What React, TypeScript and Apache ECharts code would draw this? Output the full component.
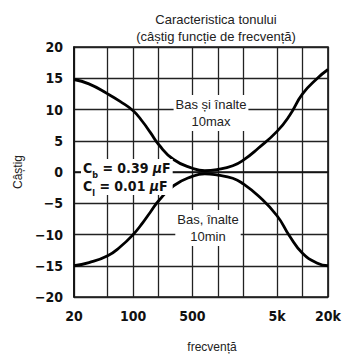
import React, { useEffect, useRef } from "react";
import * as echarts from "echarts";

const freqs = [20, 30, 50, 70, 100, 130, 160, 200, 300, 500, 700, 1000, 1500, 2000, 3000, 5000, 7000, 10000, 15000, 20000];
const gainMax = [14.8, 14.1, 12.5, 11.3, 9.8, 8.0, 6.3, 4.4, 2.0, 0.6, 0.2, 0.4, 1.0, 1.9, 3.8, 6.5, 9.0, 12.5, 15.0, 16.4];
const gainMin = [-15.0, -14.5, -13.4, -12.0, -10.0, -8.1, -6.4, -4.6, -2.2, -0.7, -0.3, -0.5, -1.0, -1.9, -3.8, -7.0, -10.2, -13.0, -14.6, -15.0];
const xTickLabels = [20, 100, 500, 5000, 20000];
const xGridFreqs = [20, 50, 100, 200, 500, 1000, 2000, 5000, 10000, 20000];

const COND = "'Liberation Sans Narrow', 'DejaVu Sans Condensed', 'Liberation Sans', Arial, sans-serif";
const SANS = "'Liberation Sans', Arial, Helvetica, sans-serif";

function fmtFreq(v: number): string {
  const f = Math.round(Math.pow(10, v));
  return f >= 1000 ? f / 1000 + "k" : String(f);
}

export default function App() {
  const ref = useRef<HTMLDivElement>(null);
  useEffect(() => {
    if (!ref.current) return;
    const chart = echarts.init(ref.current, undefined, { renderer: "svg" });
    const toPts = (g: number[]) => freqs.map((f, i) => [Math.log10(f), g[i]]);
    chart.setOption({
      animation: false,
      backgroundColor: "#fff",
      title: {
        text: "Caracteristica tonului\n(câștig funcție de frecvență)",
        left: 211,
        top: 6,
        textAlign: "center",
        textStyle: { fontFamily: SANS, fontSize: 13, fontWeight: "normal", color: "#222", lineHeight: 17 },
      },
      grid: { left: 74, right: 30, top: 47, bottom: 57, show: true, borderColor: "#111", borderWidth: 1.6 },
      xAxis: {
        type: "value",
        min: Math.log10(20),
        max: Math.log10(20000),
        name: "frecvență",
        nameLocation: "middle",
        nameGap: 44,
        nameTextStyle: { fontFamily: SANS, fontSize: 12, color: "#222", padding: [0, 0, 0, 22] },
        axisLine: { show: true, lineStyle: { color: "#111", width: 1.6 } },
        axisTick: { show: false, customValues: xGridFreqs.map((f) => Math.log10(f)) },
        axisLabel: {
          customValues: xTickLabels.map((f) => Math.log10(f)),
          formatter: (v: number) => fmtFreq(v),
          fontFamily: COND,
          fontWeight: "bold",
          fontSize: 14,
          color: "#111",
          margin: 12,
        },
        splitLine: { show: true, lineStyle: { color: "#222", width: 1.3 } },
      },
      yAxis: {
        type: "value",
        min: -20,
        max: 20,
        interval: 5,
        name: "Câștig",
        nameLocation: "middle",
        nameGap: 47,
        nameTextStyle: { fontFamily: SANS, fontSize: 12, color: "#222" },
        axisLine: { show: true, lineStyle: { color: "#111", width: 1.6 } },
        axisTick: { show: false },
        axisLabel: {
          formatter: (v: number) => (v < 0 ? "\u2212" + Math.abs(v) : String(v)),
          fontFamily: COND,
          fontWeight: "bold",
          fontSize: 14,
          color: "#111",
          margin: 11,
        },
        splitLine: { show: true, lineStyle: { color: "#222", width: 1.3 } },
      },
      series: [
        {
          type: "line",
          name: "Bas și înalte 10max",
          data: toPts(gainMax),
          smooth: 0.5,
          showSymbol: false,
          lineStyle: { color: "#000", width: 2.8 },
          z: 5,
        },
        {
          type: "line",
          name: "Bas, înalte 10min",
          data: toPts(gainMin),
          smooth: 0.5,
          showSymbol: false,
          lineStyle: { color: "#000", width: 2.8 },
          z: 5,
        },
      ],
      graphic: [
        {
          type: "text",
          x: 211,
          y: 113,
          z: 10,
          style: {
            text: "Bas și înalte\n10max",
            fontFamily: SANS,
            fontSize: 13,
            lineHeight: 17,
            fill: "#222",
            align: "center",
            verticalAlign: "middle",
            backgroundColor: "#fff",
            padding: [1, 2],
          },
        },
        {
          type: "text",
          x: 208,
          y: 228,
          z: 10,
          style: {
            text: "Bas, înalte\n10min",
            fontFamily: SANS,
            fontSize: 13,
            lineHeight: 17,
            fill: "#222",
            align: "center",
            verticalAlign: "middle",
            backgroundColor: "#fff",
            padding: [1, 2],
          },
        },
        {
          type: "text",
          x: 81,
          y: 177,
          z: 10,
          style: {
            text: "{c|C}{s|b}{c| = 0.39 }{m|μ}{c|F}\n{c|C}{s|l}{c| = 0.01 }{m|μ}{c|F}",
            verticalAlign: "middle",
            backgroundColor: "#fff",
            padding: [0, 2],
            rich: {
              c: { fontFamily: COND, fontWeight: "bold", fontSize: 14, fill: "#111", lineHeight: 18 },
              s: { fontFamily: COND, fontWeight: "bold", fontSize: 9, fill: "#111", lineHeight: 18, verticalAlign: "bottom", padding: [0, 0, -2, 0] },
              m: { fontFamily: COND, fontWeight: "bold", fontStyle: "italic", fontSize: 14, fill: "#111", lineHeight: 18 },
            },
          },
        },
      ],
    });
    return () => chart.dispose();
  }, []);
  return <div ref={ref} style={{ position: "fixed", left: 0, top: 0, width: 358, height: 358 }} />;
}
